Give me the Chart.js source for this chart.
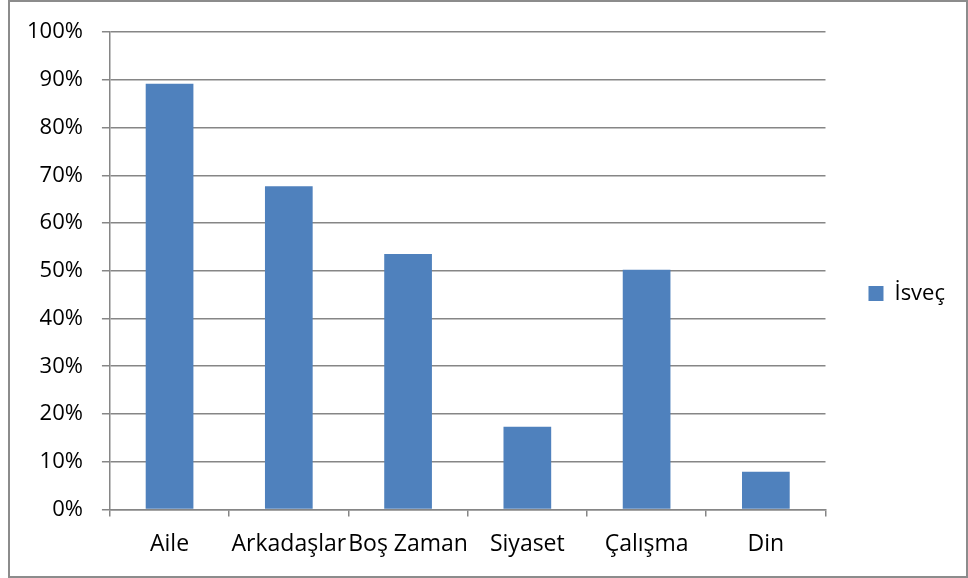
<!DOCTYPE html>
<html>
<head>
<meta charset="utf-8">
<script src="https://cdn.jsdelivr.net/npm/chart.js@4/dist/chart.umd.min.js"></script>
<style>
  html, body { margin: 0; padding: 0; background: #ffffff; }
  #wrap { width: 968px; height: 578px; position: relative; }
</style>
</head>
<body>
<div id="wrap"><canvas id="c" width="968" height="578"></canvas></div>
<script>
const categories = ['Aile', 'Arkadaşlar', 'Boş Zaman', 'Siyaset', 'Çalışma', 'Din'];
const seriesName = 'İsveç';
const seriesValues = [89.2, 67.7, 53.5, 17.3, 50.2, 7.9];
const yTicks = [0, 10, 20, 30, 40, 50, 60, 70, 80, 90, 100];

const FONT = '"Open Sans", "Noto Sans", sans-serif';
const GRID = '#868686';

const frame = {
  id: 'frame',
  beforeDraw(chart) {
    const ctx = chart.ctx;
    ctx.save();
    ctx.fillStyle = '#ffffff';
    ctx.fillRect(0, 0, chart.width, chart.height);
    ctx.strokeStyle = '#8c8c8c';
    ctx.lineWidth = 2;
    ctx.strokeRect(9, 1, chart.width - 10, chart.height - 2);
    ctx.restore();
  }
};

new Chart(document.getElementById('c'), {
  type: 'bar',
  data: {
    labels: categories,
    datasets: [{
      label: seriesName,
      data: seriesValues,
      backgroundColor: '#4F81BD',
      borderWidth: 0,
      barPercentage: 0.4,
      categoryPercentage: 1.0
    }]
  },
  options: {
    responsive: false,
    animation: false,
    layout: { padding: { left: 8, right: 13, top: 15, bottom: 6 } },
    plugins: {
      tooltip: { enabled: false },
      legend: {
        position: 'right',
        labels: {
          boxWidth: 15,
          boxHeight: 15,
          padding: 43,
          color: '#000000',
          font: { family: FONT, size: 22 }
        }
      }
    },
    scales: {
      x: {
        grid: {
          display: true,
          drawOnChartArea: false,
          drawTicks: true,
          tickLength: 7,
          color: GRID,
          lineWidth: 1.5,
          offset: true
        },
        border: { display: true, color: GRID, width: 1.5 },
        ticks: {
          color: '#000000',
          padding: 14,
          maxRotation: 0,
          autoSkip: false,
          font: { family: FONT, size: 23 }
        }
      },
      y: {
        min: 0,
        max: 100,
        afterBuildTicks(axis) { axis.ticks = yTicks.map(v => ({ value: v })); },
        grid: {
          color: GRID,
          lineWidth: 1.5,
          drawTicks: true,
          tickLength: 8
        },
        border: { display: true, color: GRID, width: 1.5 },
        ticks: {
          color: '#000000',
          padding: 19,
          font: { family: FONT, size: 22 },
          callback: v => v + '%'
        }
      }
    }
  },
  plugins: [frame]
});
</script>
</body>
</html>
